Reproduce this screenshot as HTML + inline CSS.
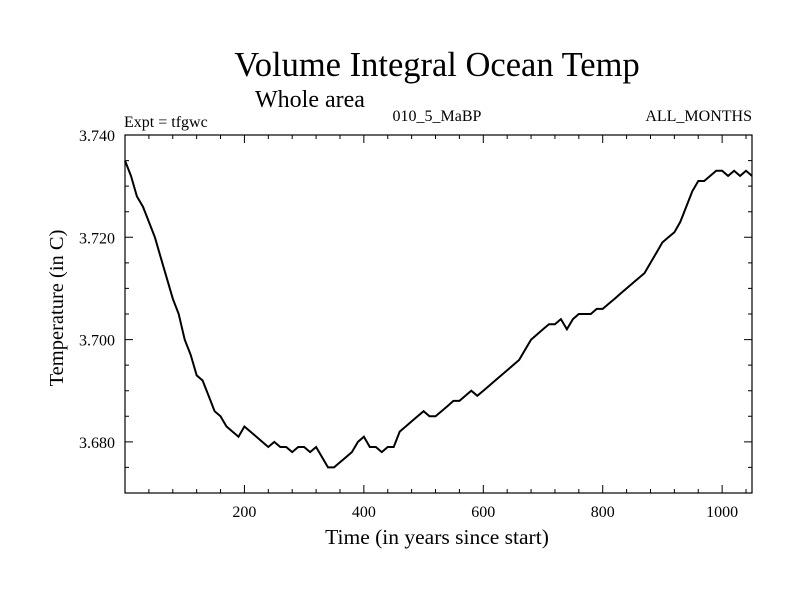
<!DOCTYPE html>
<html><head><meta charset="utf-8"><style>
body{margin:0;background:#fff}
svg text{font-family:"Liberation Serif",serif;fill:#000}
</style></head><body>
<svg id="chart" width="800" height="600" xmlns="http://www.w3.org/2000/svg">
<text x="437" y="76" font-size="34.5" text-anchor="middle">Volume Integral Ocean Temp</text>
<text x="255" y="107" font-size="24">Whole area</text>
<text x="124" y="127" font-size="16">Expt = tfgwc</text>
<text x="437" y="121" font-size="16" text-anchor="middle">010_5_MaBP</text>
<text x="752" y="121" font-size="16" text-anchor="end">ALL_MONTHS</text>
<text x="437" y="544" font-size="21.5" text-anchor="middle">Time (in years since start)</text>
<text x="0" y="0" font-size="20.5" text-anchor="middle" transform="translate(63,308) rotate(-90)">Temperature (in C)</text>
<g id="axes"></g>
<path id="series" fill="none" stroke="#000" stroke-width="2"/>
</svg>
<script>
const years=[0,10,20,30,40,50,60,70,80,90,100,110,120,130,140,150,160,170,180,190,200,210,220,230,240,250,260,270,280,290,300,310,320,330,340,350,360,370,380,390,400,410,420,430,440,450,460,470,480,490,500,510,520,530,540,550,560,570,580,590,600,610,620,630,640,650,660,670,680,690,700,710,720,730,740,750,760,770,780,790,800,810,820,830,840,850,860,870,880,890,900,910,920,930,940,950,960,970,980,990,1000,1010,1020,1030,1040,1050];
const temps=[3.735,3.732,3.728,3.726,3.723,3.720,3.716,3.712,3.708,3.705,3.700,3.697,3.693,3.692,3.689,3.686,3.685,3.683,3.682,3.681,3.683,3.682,3.681,3.680,3.679,3.680,3.679,3.679,3.678,3.679,3.679,3.678,3.679,3.677,3.675,3.675,3.676,3.677,3.678,3.680,3.681,3.679,3.679,3.678,3.679,3.679,3.682,3.683,3.684,3.685,3.686,3.685,3.685,3.686,3.687,3.688,3.688,3.689,3.690,3.689,3.690,3.691,3.692,3.693,3.694,3.695,3.696,3.698,3.700,3.701,3.702,3.703,3.703,3.704,3.702,3.704,3.705,3.705,3.705,3.706,3.706,3.707,3.708,3.709,3.710,3.711,3.712,3.713,3.715,3.717,3.719,3.720,3.721,3.723,3.726,3.729,3.731,3.731,3.732,3.733,3.733,3.732,3.733,3.732,3.733,3.732];
const xTickLabels=["200","400","600","800","1000"];
const yTickLabels=["3.680","3.700","3.720","3.740"];
const X0=125,X1=752,Y0=135,Y1=493,xmin=0,xmax=1050,ymin=3.670,ymax=3.740;
const sx=v=>X0+(v-xmin)/(xmax-xmin)*(X1-X0);
const sy=v=>Y1-(v-ymin)/(ymax-ymin)*(Y1-Y0);
const NS="http://www.w3.org/2000/svg";
const ax=document.getElementById('axes');
function mk(tag,at){const e=document.createElementNS(NS,tag);for(const k in at)e.setAttribute(k,at[k]);ax.appendChild(e);return e;}
const frame=mk('rect',{x:X0,y:Y0,width:X1-X0,height:Y1-Y0,fill:'none',stroke:'#000','stroke-width':1.2});


let d='';
for(let v=40;v<xmax;v+=40){const L=(v%200===0)?8:4;const x=sx(v);d+=`M${x},${Y1}v${-L}M${x},${Y0}v${L}`;}
for(let k=1;k<14;k++){const v=ymin+k*0.005;const L=(k%4===2)?8:4;const y=sy(v);d+=`M${X0},${y}h${L}M${X1},${y}h${-L}`;}
const t=mk('path',{d:d,stroke:'#000','stroke-width':1,fill:'none'});


xTickLabels.forEach(s=>{const e=mk('text',{x:sx(+s),y:Y1+24,'font-size':16,'text-anchor':'middle'});e.textContent=s;

});
yTickLabels.forEach(s=>{const e=mk('text',{x:X0-10,y:sy(+s)+6,'font-size':16,'text-anchor':'end'});e.textContent=s;

});
document.getElementById('series').setAttribute('d',years.map((y,i)=>(i?'L':'M')+sx(y).toFixed(1)+','+sy(temps[i]).toFixed(1)).join(''));
</script>
</body></html>
